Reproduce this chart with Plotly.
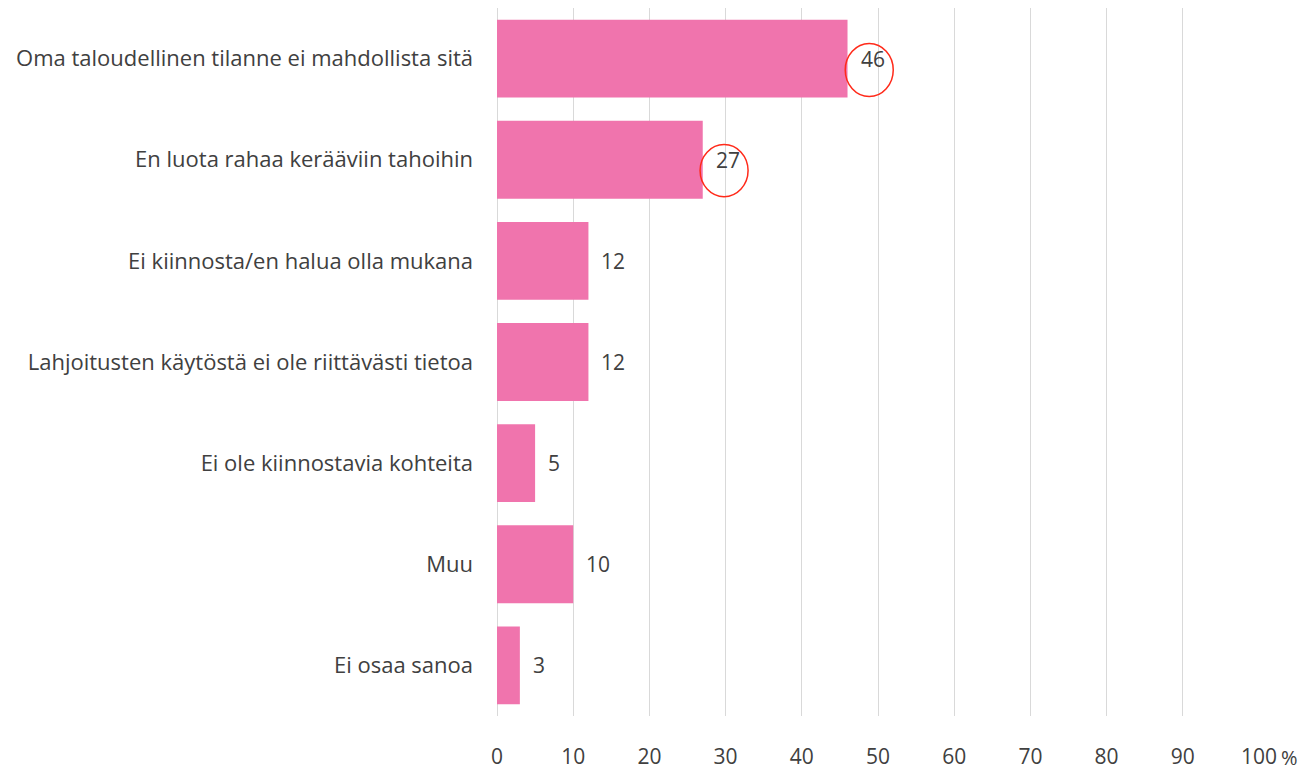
import plotly.graph_objects as go

categories = [
    "Oma taloudellinen tilanne ei mahdollista sitä",
    "En luota rahaa kerääviin tahoihin",
    "Ei kiinnosta/en halua olla mukana",
    "Lahjoitusten käytöstä ei ole riittävästi tietoa",
    "Ei ole kiinnostavia kohteita",
    "Muu",
    "Ei osaa sanoa",
]
values = [46, 27, 12, 12, 5, 10, 3]
x_ticks = [0, 10, 20, 30, 40, 50, 60, 70, 80, 90, 100]

FONT = "Open Sans"
TXT = "#404040"
FS = 21

fig = go.Figure()
fig.add_trace(go.Bar(
    y=list(range(len(categories))),
    x=values,
    orientation="h",
    marker=dict(color="#F074AD", line=dict(width=0)),
    width=0.77,
    hoverinfo="skip",
))

for i, v in enumerate(values):
    fig.add_annotation(x=v, y=i, text=str(v), showarrow=False,
                       xanchor="left", xshift=11,
                       font=dict(family=FONT, size=FS, color=TXT))

# red circles highlighting two values
fig.add_shape(type="circle", xref="x", yref="y",
              x0=45.7, x1=52.0, y0=-0.15, y1=0.375,
              line=dict(color="#FF2A1A", width=1.5))
fig.add_shape(type="circle", xref="x", yref="y",
              x0=26.65, x1=32.95, y0=0.85, y1=1.365,
              line=dict(color="#FF2A1A", width=1.5))

fig.add_annotation(x=1.0, y=0, xref="paper", yref="paper", text="%",
                   showarrow=False, xanchor="left", yanchor="middle",
                   xshift=21, yshift=-41, borderpad=0,
                   font=dict(family=FONT, size=20, color=TXT))

fig.update_layout(
    width=1306, height=772,
    margin=dict(l=497, r=47, t=8, b=56, autoexpand=False),
    plot_bgcolor="white", paper_bgcolor="white",
    showlegend=False,
    font=dict(family=FONT, size=FS, color=TXT),
    xaxis=dict(range=[0, 100], tickvals=x_ticks, ticktext=[str(t) for t in x_ticks],
               showgrid=True, gridcolor="#D9D9D9", gridwidth=1,
               zeroline=True, zerolinecolor="#D9D9D9", zerolinewidth=1,
               showline=False, ticks="", ticklabelstandoff=26, automargin=False,
               tickfont=dict(family=FONT, size=FS, color=TXT)),
    yaxis=dict(range=[6.5, -0.5], tickvals=list(range(len(categories))),
               ticktext=categories, showgrid=False, zeroline=False,
               showline=False, ticks="", ticklabelstandoff=23, automargin=False,
               tickfont=dict(family=FONT, size=22, color=TXT)),
)

fig.write_html("out.html", config={"displayModeBar": False},
               post_script="document.body.style.margin='0';document.body.style.overflow='hidden';")
